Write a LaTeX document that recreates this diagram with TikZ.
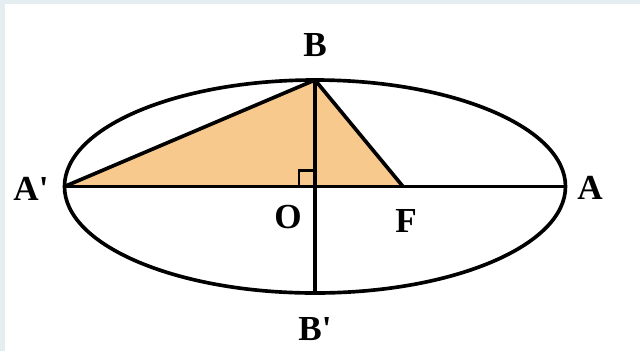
\documentclass[tikz,border=0pt]{standalone}
\usepackage{fontspec}
\setmainfont{Liberation Serif}
\usepackage{tikz}

\definecolor{framegray}{RGB}{228,237,240}
\definecolor{triorange}{RGB}{248,201,140}

\begin{document}
\begin{tikzpicture}[x={(0.025cm,0cm)}, y={(0cm,-0.025cm)},
  lbl/.style={font=\fontsize{25}{28}\selectfont\bfseries, inner sep=0pt},
  thick line/.style={line width=2.6pt}]

% Frame
\fill[framegray] (0,0) rectangle (640,351);
\fill[white] (5,4) rectangle (640,351);
\useasboundingbox (0,0) rectangle (640,351);

% Half axes of the ellipse
\def\SA{250.5}  % horizontal
\def\SB{106.5}  % vertical
\def\OX{315}
\def\OY{186.5}

\coordinate (O)  at (\OX,\OY);
\coordinate (A)  at (\OX+\SA,\OY);
\coordinate (A1) at (\OX-\SA,\OY);
\coordinate (B)  at (\OX,\OY-\SB);
\coordinate (B1) at (\OX,\OY+\SB);
\coordinate (F)  at (403,\OY);

% Triangle A'BF
\fill[triorange] (A1) -- (B) -- (F) -- cycle;

% Right angle at O
\draw[line width=1.6pt] (\OX-16,\OY) -- (\OX-16,\OY-16) -- (\OX,\OY-16);

% Ellipse and axes
\draw[thick line] (O) ellipse [x radius=\SA, y radius=\SB];
\draw[thick line] (A1) -- (A);
\draw[thick line] (B) -- (B1);
\draw[thick line, line join=round] (A1) -- (B) -- (F);

% Labels
\node[lbl] (lB)  at (315,45)  {B};
\node[lbl] (lB1) at (315,329) {B\textquotesingle};
\node[lbl] (lA1) at (31,189)  {A\textquotesingle};
\node[lbl] (lA)  at (590,188) {A};
\node[lbl] (lO)  at (288,217) {O};
\node[lbl] (lF)  at (406,221) {F};

\end{tikzpicture}
\end{document}
